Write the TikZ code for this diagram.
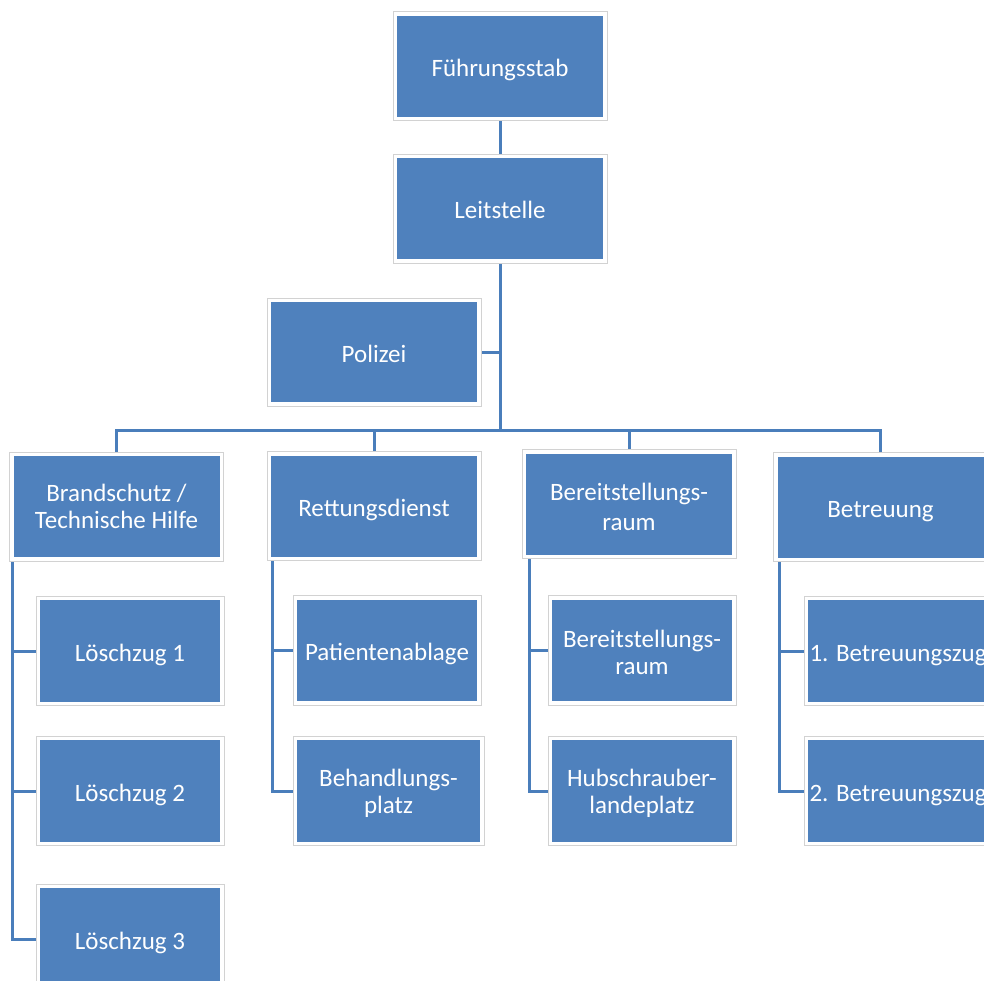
\documentclass[tikz,border=0pt]{standalone}
\usepackage{fontspec}
\setmainfont{Carlito}
\usetikzlibrary{backgrounds}
\definecolor{boxblue}{HTML}{4F81BD}
\definecolor{lineblue}{HTML}{4A7EBB}
\definecolor{boxgray}{HTML}{D2D2D2}
\tikzset{
  orgbox/.style={rectangle, fill=boxblue, draw=white, line width=3.5pt,
    preaction={draw=boxgray, line width=5.5pt},
    text=white, align=center, inner sep=0pt, outer sep=0pt,
    font=\fontsize{25}{27}\selectfont},
  oneline/.style={text height=20pt, text depth=0pt},
  bigbox/.style={orgbox, minimum width=209.5pt, minimum height=104.5pt},
  smallbox/.style={orgbox, minimum width=183.5pt, minimum height=105pt},
  conn/.style={draw=lineblue, line width=3pt}
}
\begin{document}
\begin{tikzpicture}[x=1pt, y=-1pt]
\useasboundingbox (0,0) rectangle (984,980);
\clip (0,0) rectangle (984,980);

\node[bigbox, oneline] (fs) at (500,66) {Führungsstab};
\node[bigbox, oneline] (ls) at (500,208.5) {Leitstelle};
\node[bigbox, oneline, minimum height=103.5pt] (pol) at (374,352) {Polizei};

\node[bigbox] (bs) at (116.5,506.5) {Brandschutz /\\Technische Hilfe};
\node[bigbox, oneline] (rd) at (374,506) {Rettungsdienst};
\node[bigbox, font=\fontsize{25}{30}\selectfont] (br) at (629,504) {\rule{0pt}{23pt}Bereitstellungs-\\raum};
\node[bigbox, oneline] (bt) at (880.5,507) {Betreuung};

\node[smallbox, oneline] (lz1) at (130,651) {Löschzug 1};
\node[smallbox, oneline] (lz2) at (130,791) {Löschzug 2};
\node[smallbox, oneline] (lz3) at (130,939) {Löschzug 3};

\node[smallbox, oneline] (pa) at (387,650.5) {Patientenablage};
\node[smallbox, minimum width=186.5pt] (bh) at (388.5,791) {\rule{0pt}{22pt}Behandlungs-\\platz};

\node[smallbox] (br1) at (642,650.5) {\rule{0pt}{22pt}Bereitstellungs-\\raum};
\node[smallbox] (hl) at (642,791) {\rule{0pt}{22pt}Hubschrauber-\\landeplatz};

\node[smallbox, oneline] (b1) at (898,651) {1. Betreuungszug};
\node[smallbox, oneline] (b2) at (898,791) {2. Betreuungszug};

\coordinate (hub) at (500,430);

\begin{scope}[on background layer]
\fill[white] (0,0) rectangle (984,980);
\draw[conn] (fs.south) -- (ls.north);
\draw[conn] (ls.south) -- (hub);
\draw[conn] (pol.east) -- (pol.east -| hub);
\draw[conn] (hub) -| (bs.north);
\draw[conn] (hub) -| (rd.north);
\draw[conn] (hub) -| (br.north);
\draw[conn] (hub) -| (bt.north);

\draw[conn] ([xshift=1pt]bs.south west) |- (lz1.west);
\draw[conn] ([xshift=1pt]bs.south west) |- (lz2.west);
\draw[conn] ([xshift=1pt]bs.south west) |- (lz3.west);

\draw[conn] ([xshift=3pt]rd.south west) |- (pa.west);
\draw[conn] ([xshift=3pt]rd.south west) |- (bh.west);

\draw[conn] ([xshift=5pt]br.south west) |- (br1.west);
\draw[conn] ([xshift=5pt]br.south west) |- (hl.west);

\draw[conn] ([xshift=4pt]bt.south west) |- (b1.west);
\draw[conn] ([xshift=4pt]bt.south west) |- (b2.west);
\end{scope}
\end{tikzpicture}
\end{document}
